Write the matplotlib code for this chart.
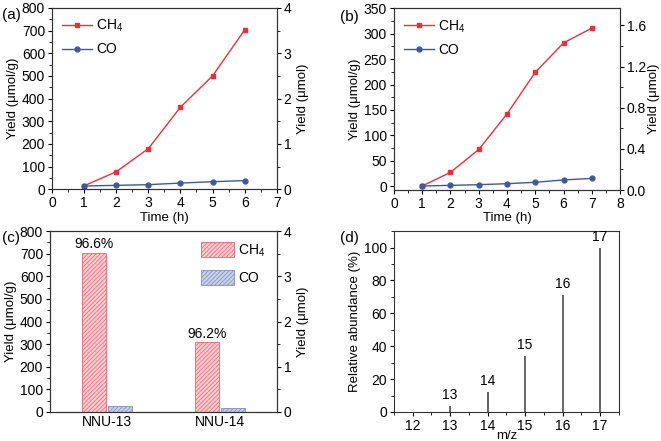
import matplotlib
matplotlib.use("Agg")
import matplotlib.pyplot as plt
import numpy as np
from matplotlib.ticker import AutoMinorLocator, MultipleLocator, FormatStrFormatter

plt.rcParams['font.family'] = ['Liberation Sans', 'DejaVu Sans']
plt.rcParams['mathtext.default'] = 'regular'
plt.rcParams['font.size'] = 10
plt.rcParams['axes.labelsize'] = 9.5
plt.rcParams['hatch.linewidth'] = 0.5

# (a) NNU-13 time course
time_a = [1, 2, 3, 4, 5, 6]
ch4_a = [15, 77, 179, 362, 500, 703]
co_a = [14, 17, 20, 27, 33, 38]

# (b) NNU-14 time course
time_b = [1, 2, 3, 4, 5, 6, 7]
ch4_b = [0, 27, 72, 142, 224, 282, 311]
co_b = [0, 1.3, 2.6, 4.6, 7.3, 12, 15]

# (c) bar comparison
samples = ['NNU-13', 'NNU-14']
ch4_c = [705, 310]
co_c = [26, 17]
selectivity = ['96.6%', '96.2%']

# (d) mass spectrum
mz = [13, 14, 15, 16, 17]
abundance = [3.4, 12, 34, 71, 100]

RED = '#e5313c'
BLUE = '#3d5a9c'

fig = plt.figure(figsize=(6.61, 4.41), dpi=100)

def style(ax):
    ax.tick_params(direction='out', length=3, width=0.8, labelsize=10, pad=2)
    ax.tick_params(which='minor', direction='out', length=2, width=0.6)
    for s in ax.spines.values():
        s.set_linewidth(0.8)
        s.set_color('#333333')

# (a)
axa = fig.add_axes([0.0787, 0.571, 0.340, 0.411])
axa.plot(time_a, ch4_a, '-s', color=RED, ms=3.5, lw=1, label='CH$_4$')
axa.plot(time_a, co_a, '-o', color=BLUE, ms=3.5, lw=1, label='CO')
axa.set_xlim(0, 7)
axa.set_ylim(0, 800)
axa.xaxis.set_major_locator(MultipleLocator(1))
axa.yaxis.set_major_locator(MultipleLocator(100))
axa.xaxis.set_minor_locator(AutoMinorLocator(2))
axa.yaxis.set_minor_locator(AutoMinorLocator(2))
axa.set_xlabel('Time (h)', labelpad=1)
axa.set_ylabel('Yield (μmol/g)', labelpad=2)
axa.legend(loc='upper left', frameon=False, handlelength=2.2, fontsize=10,
           borderaxespad=0.3, labelspacing=0.6, handletextpad=0.3)
style(axa)
axa2 = axa.twinx()
axa2.set_ylim(0, 4)
axa2.yaxis.set_major_locator(MultipleLocator(1))
axa2.yaxis.set_minor_locator(AutoMinorLocator(2))
axa2.set_ylabel('Yield (μmol)', labelpad=4)
style(axa2)

# (b)
axb = fig.add_axes([0.596, 0.569, 0.342, 0.412])
axb.plot(time_b, ch4_b, '-s', color=RED, ms=3.5, lw=1, label='CH$_4$')
axb.plot(time_b, co_b, '-o', color=BLUE, ms=3.5, lw=1, label='CO')
axb.set_xlim(0, 8)
axb.set_ylim(-8, 350)
axb.xaxis.set_major_locator(MultipleLocator(1))
axb.yaxis.set_major_locator(MultipleLocator(50))
axb.xaxis.set_minor_locator(AutoMinorLocator(2))
axb.yaxis.set_minor_locator(AutoMinorLocator(2))
axb.set_xlabel('Time (h)', labelpad=1)
axb.set_ylabel('Yield (μmol/g)', labelpad=2)
axb.legend(loc='upper left', frameon=False, handlelength=2.2, fontsize=10,
           borderaxespad=0.3, labelspacing=0.6, handletextpad=0.3)
style(axb)
axb2 = axb.twinx()
axb2.set_ylim(0, 1.765)
axb2.yaxis.set_major_locator(MultipleLocator(0.4))
axb2.yaxis.set_minor_locator(AutoMinorLocator(2))
axb2.yaxis.set_major_formatter(FormatStrFormatter('%.1f'))
style(axb2)
axb2.set_ylabel('Yield (μmol)', labelpad=1)

# (c)
axc = fig.add_axes([0.0756, 0.0658, 0.343, 0.410])
x = np.arange(1, len(samples) + 1)
w = 0.21
axc.bar(x - 0.115, ch4_c, w, facecolor='#f7c9cd', edgecolor='#e06873',
        hatch='////////', lw=0.6, label='CH$_4$')
axc.bar(x + 0.115, co_c, w, facecolor='#c6d0e6', edgecolor='#7d8fbd',
        hatch='////////', lw=0.6, label='CO')
for xi, yi, t in zip(x, ch4_c, selectivity):
    axc.text(xi - 0.115, yi + 6, t, ha='center', va='bottom', fontsize=10)
axc.set_xlim(0.5, 2.5)
axc.set_ylim(0, 800)
axc.set_xticks(x)
axc.set_xticklabels(samples)
axc.yaxis.set_major_locator(MultipleLocator(100))
axc.yaxis.set_minor_locator(AutoMinorLocator(2))
axc.set_ylabel('Yield (μmol/g)', labelpad=2)
axc.legend(loc='upper right', frameon=False, handlelength=2.4, handleheight=1.3,
           fontsize=10, borderaxespad=0.4, labelspacing=0.8, handletextpad=0.3)
style(axc)
axc.tick_params(axis='x', length=0)
axc2 = axc.twinx()
axc2.set_ylim(0, 4)
axc2.yaxis.set_major_locator(MultipleLocator(1))
axc2.yaxis.set_minor_locator(AutoMinorLocator(2))
axc2.set_ylabel('Yield (μmol)', labelpad=4)
style(axc2)

# (d)
axd = fig.add_axes([0.596, 0.0658, 0.340, 0.410])
axd.vlines(mz, 0, abundance, color='#4a4a4a', lw=1.2)
for m, a in zip(mz, abundance):
    axd.text(m, a + 2.5, str(m), ha='center', va='bottom', fontsize=10)
axd.set_xlim(11.5, 17.5)
axd.set_ylim(0, 110)
axd.xaxis.set_major_locator(MultipleLocator(1))
axd.xaxis.set_minor_locator(AutoMinorLocator(2))
axd.yaxis.set_major_locator(MultipleLocator(20))
axd.yaxis.set_minor_locator(AutoMinorLocator(2))
axd.set_ylabel('Relative abundance (%)', labelpad=2)
style(axd)
axd.set_xlabel('m/z', labelpad=-2)

fig.text(0.003, 0.982, '(a)', fontsize=11, va='top')
fig.text(0.514, 0.978, '(b)', fontsize=11, va='top')
fig.text(0.003, 0.476, '(c)', fontsize=11, va='top')
fig.text(0.514, 0.476, '(d)', fontsize=11, va='top')

fig.savefig('out.png', dpi=100)
